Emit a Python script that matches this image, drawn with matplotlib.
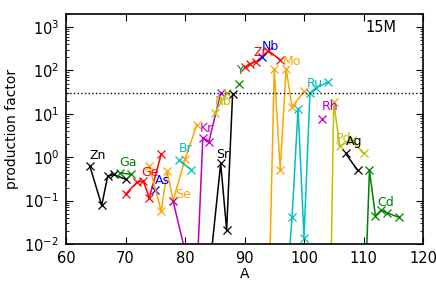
import matplotlib
matplotlib.use("Agg")
import matplotlib.pyplot as plt
from matplotlib.ticker import LogLocator, NullFormatter, MultipleLocator

# ---- data: mass numbers and production factors per element ----
zn_A = [64, 66, 67, 68, 70]
zn_pf = [0.63, 0.078, 0.36, 0.40, 0.31]
ga_A = [69, 71]
ga_pf = [0.44, 0.40]
ge_A = [70, 72, 73, 74, 76]
ge_pf = [0.14, 0.27, 0.28, 0.115, 1.17]
as_A = [75]
as_pf = [0.175]
se_A = [74, 76, 77, 78, 80, 82]
se_pf = [0.63, 0.057, 0.48, 0.10, 0.9, 5.6]
br_A = [79, 81]
br_pf = [0.85, 0.52]
kr_A = [78, 80, 82, 83, 84, 86]
kr_pf = [0.097, 0.007, 0.0018, 2.8, 2.25, 30.0]
rb_A = [85, 87]
rb_pf = [10.5, 30.0]
sr_A = [84, 86, 87, 88]
sr_pf = [0.0017, 0.72, 0.021, 29.0]
y_A = [89]
y_pf = [49.0]
zr_A = [90, 91, 92, 94, 96]
zr_pf = [120.0, 143.0, 160.0, 285.0, 176.0]
nb_A = [93]
nb_pf = [200.0]
mo_A = [92, 94, 95, 96, 97, 98, 100]
mo_pf = [1e-4, 1.3e-4, 109.0, 0.52, 109.0, 14.3, 33.0]
ru_A = [96, 98, 99, 100, 101, 102, 104]
ru_pf = [1e-5, 0.042, 13.2, 0.014, 30.0, 40.0, 54.0]
rh_A = [103]
rh_pf = [7.8]
pd_A = [102, 104, 105, 106, 108, 110]
pd_pf = [1e-7, 1e-7, 18.6, 1.8, 2.5, 1.22]
ag_A = [107, 109]
ag_pf = [1.22, 0.50]
cd_A = [106, 108, 110, 111, 112, 113, 114, 116]
cd_pf = [1e-5, 1e-5, 6e-5, 0.50, 0.045, 0.06, 0.052, 0.041]

ref_level = 30.0
model_name = "15M"

C = {"k": "black", "g": "#008000", "r": "#ff0000", "b": "#0000ff",
     "o": "#ffa500", "c": "#00bfbf", "m": "#bf00bf", "y": "#bfbf00"}

series = [
    ("Zn", zn_A, zn_pf, C["k"], (89, 156)),
    ("Ga", ga_A, ga_pf, C["g"], (119, 163)),
    ("Ge", ge_A, ge_pf, C["r"], (141, 173)),
    ("As", as_A, as_pf, C["b"], (155, 180)),
    ("Se", se_A, se_pf, C["o"], (175, 194)),
    ("Br", br_A, br_pf, C["c"], (179, 149)),
    ("Kr", kr_A, kr_pf, C["m"], (200, 128)),
    ("Rb", rb_A, rb_pf, C["y"], (215, 102)),
    ("Sr", sr_A, sr_pf, C["k"], (216, 155)),
    ("Y", y_A, y_pf, C["g"], (237, 71)),
    ("Zr", zr_A, zr_pf, C["r"], (253, 52)),
    ("Nb", nb_A, nb_pf, C["b"], (262, 46)),
    ("Mo", mo_A, mo_pf, C["o"], (283, 61)),
    ("Ru", ru_A, ru_pf, C["c"], (307, 83)),
    ("Rh", rh_A, rh_pf, C["m"], (322, 107)),
    ("Pd", pd_A, pd_pf, C["y"], (336, 138)),
    ("Ag", ag_A, ag_pf, C["k"], (346, 141)),
    ("Cd", cd_A, cd_pf, C["g"], (377, 202)),
]

W, H = 436, 296
fig = plt.figure(figsize=(W / 100, H / 100), dpi=100)
ax = fig.add_axes([66 / W, 1 - 244 / H, (423 - 66) / W, (244 - 14) / H])

for name, A, pf, col, (tx, ty) in series:
    ax.plot(A, pf, color=col, marker="x", markersize=6, markeredgewidth=0.9,
            linewidth=1.1)

ax.axhline(ref_level, color="black", linestyle=":", linewidth=1)

ax.set_yscale("log")
ax.set_xlim(60, 120)
ax.set_ylim(1e-2, 2000)
ax.xaxis.set_major_locator(MultipleLocator(10))
ax.yaxis.set_major_locator(LogLocator(base=10, numticks=10))
ax.yaxis.set_minor_locator(LogLocator(base=10, subs=range(2, 10), numticks=10))
ax.yaxis.set_minor_formatter(NullFormatter())
ax.tick_params(which="both", direction="in", top=True, right=True, labelsize=10.5)
ax.tick_params(which="major", length=5, width=0.8)
ax.tick_params(which="minor", length=2.5, width=0.6)
ax.tick_params(axis="x", pad=5)
ax.tick_params(axis="y", pad=5)
for s in ax.spines.values():
    s.set_linewidth(1.2)

ax.set_xlabel("A", fontsize=10, labelpad=1)
ax.set_ylabel("production factor", fontsize=10, labelpad=4)

# element labels placed in figure pixel coordinates (left, vertical centre)
for name, A, pf, col, (tx, ty) in series:
    fig.text(tx / W, 1 - ty / H, name, color=col, fontsize=9,
             ha="left", va="center")

fig.text(365 / W, 1 - 27 / H, model_name, fontsize=10.5, ha="left", va="center")

fig.savefig("out.png", dpi=100)
